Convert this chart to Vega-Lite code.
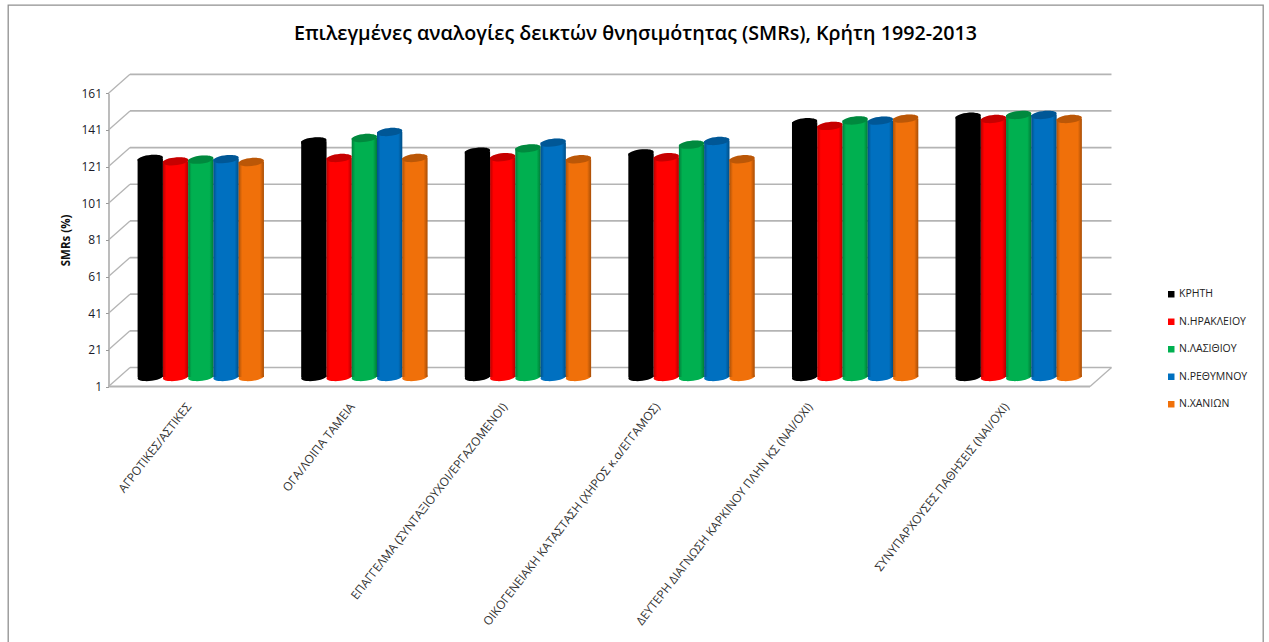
{
  "$schema": "https://vega.github.io/schema/vega-lite/v6.json",
  "width": 1255,
  "height": 640,
  "autosize": {"type": "none"},
  "padding": {"left": 8, "top": 5, "right": 6, "bottom": 0},
  "background": "white",
  "view": {"stroke": "#909090", "strokeWidth": 1.3, "fill": "white"},
  "title": {
    "text": "Επιλεγμένες αναλογίες δεικτών θνησιμότητας (SMRs), Κρήτη 1992-2013",
    "anchor": "middle",
    "frame": "group",
    "baseline": "alphabetic",
    "offset": -55,
    "font": "Open Sans",
    "fontSize": 19.7,
    "fontWeight": 600,
    "color": "#000000"
  },
  "datasets": {
    "ratios": [
      {"category": "ΑΓΡΟΤΙΚΕΣ/ΑΣΤΙΚΕΣ", "region": "ΚΡΗΤΗ", "smr": 120},
      {"category": "ΑΓΡΟΤΙΚΕΣ/ΑΣΤΙΚΕΣ", "region": "Ν.ΗΡΑΚΛΕΙΟΥ", "smr": 118.7},
      {"category": "ΑΓΡΟΤΙΚΕΣ/ΑΣΤΙΚΕΣ", "region": "Ν.ΛΑΣΙΘΙΟΥ", "smr": 119.6},
      {"category": "ΑΓΡΟΤΙΚΕΣ/ΑΣΤΙΚΕΣ", "region": "Ν.ΡΕΘΥΜΝΟΥ", "smr": 119.9},
      {"category": "ΑΓΡΟΤΙΚΕΣ/ΑΣΤΙΚΕΣ", "region": "Ν.ΧΑΝΙΩΝ", "smr": 118.3},
      {"category": "ΟΓΑ/ΛΟΙΠΑ ΤΑΜΕΙΑ", "region": "ΚΡΗΤΗ", "smr": 129.6},
      {"category": "ΟΓΑ/ΛΟΙΠΑ ΤΑΜΕΙΑ", "region": "Ν.ΗΡΑΚΛΕΙΟΥ", "smr": 120.5},
      {"category": "ΟΓΑ/ΛΟΙΠΑ ΤΑΜΕΙΑ", "region": "Ν.ΛΑΣΙΘΙΟΥ", "smr": 131.4},
      {"category": "ΟΓΑ/ΛΟΙΠΑ ΤΑΜΕΙΑ", "region": "Ν.ΡΕΘΥΜΝΟΥ", "smr": 134.7},
      {"category": "ΟΓΑ/ΛΟΙΠΑ ΤΑΜΕΙΑ", "region": "Ν.ΧΑΝΙΩΝ", "smr": 120.5},
      {"category": "ΕΠΑΓΓΕΛΜΑ  (ΣΥΝΤΑΞΙΟΥΧΟΙ/ΕΡΓΑΖΟΜΕΝΟΙ)", "region": "ΚΡΗΤΗ", "smr": 124},
      {"category": "ΕΠΑΓΓΕΛΜΑ  (ΣΥΝΤΑΞΙΟΥΧΟΙ/ΕΡΓΑΖΟΜΕΝΟΙ)", "region": "Ν.ΗΡΑΚΛΕΙΟΥ", "smr": 120.9},
      {"category": "ΕΠΑΓΓΕΛΜΑ  (ΣΥΝΤΑΞΙΟΥΧΟΙ/ΕΡΓΑΖΟΜΕΝΟΙ)", "region": "Ν.ΛΑΣΙΘΙΟΥ", "smr": 125.8},
      {"category": "ΕΠΑΓΓΕΛΜΑ  (ΣΥΝΤΑΞΙΟΥΧΟΙ/ΕΡΓΑΖΟΜΕΝΟΙ)", "region": "Ν.ΡΕΘΥΜΝΟΥ", "smr": 128.9},
      {"category": "ΕΠΑΓΓΕΛΜΑ  (ΣΥΝΤΑΞΙΟΥΧΟΙ/ΕΡΓΑΖΟΜΕΝΟΙ)", "region": "Ν.ΧΑΝΙΩΝ", "smr": 119.8},
      {"category": "ΟΙΚΟΓΕΝΕΙΑΚΗ ΚΑΤΑΣΤΑΣΗ (ΧΗΡΟΣ κ.α/ΕΓΓΑΜΟΣ)", "region": "ΚΡΗΤΗ", "smr": 123},
      {"category": "ΟΙΚΟΓΕΝΕΙΑΚΗ ΚΑΤΑΣΤΑΣΗ (ΧΗΡΟΣ κ.α/ΕΓΓΑΜΟΣ)", "region": "Ν.ΗΡΑΚΛΕΙΟΥ", "smr": 120.9},
      {"category": "ΟΙΚΟΓΕΝΕΙΑΚΗ ΚΑΤΑΣΤΑΣΗ (ΧΗΡΟΣ κ.α/ΕΓΓΑΜΟΣ)", "region": "Ν.ΛΑΣΙΘΙΟΥ", "smr": 127.8},
      {"category": "ΟΙΚΟΓΕΝΕΙΑΚΗ ΚΑΤΑΣΤΑΣΗ (ΧΗΡΟΣ κ.α/ΕΓΓΑΜΟΣ)", "region": "Ν.ΡΕΘΥΜΝΟΥ", "smr": 129.8},
      {"category": "ΟΙΚΟΓΕΝΕΙΑΚΗ ΚΑΤΑΣΤΑΣΗ (ΧΗΡΟΣ κ.α/ΕΓΓΑΜΟΣ)", "region": "Ν.ΧΑΝΙΩΝ", "smr": 119.8},
      {"category": "ΔΕΥΤΕΡΗ  ΔΙΑΓΝΩΣΗ ΚΑΡΚΙΝΟΥ ΠΛΗΝ ΚΣ (ΝΑΙ/ΟΧΙ)", "region": "ΚΡΗΤΗ", "smr": 140},
      {"category": "ΔΕΥΤΕΡΗ  ΔΙΑΓΝΩΣΗ ΚΑΡΚΙΝΟΥ ΠΛΗΝ ΚΣ (ΝΑΙ/ΟΧΙ)", "region": "Ν.ΗΡΑΚΛΕΙΟΥ", "smr": 138},
      {"category": "ΔΕΥΤΕΡΗ  ΔΙΑΓΝΩΣΗ ΚΑΡΚΙΝΟΥ ΠΛΗΝ ΚΣ (ΝΑΙ/ΟΧΙ)", "region": "Ν.ΛΑΣΙΘΙΟΥ", "smr": 141},
      {"category": "ΔΕΥΤΕΡΗ  ΔΙΑΓΝΩΣΗ ΚΑΡΚΙΝΟΥ ΠΛΗΝ ΚΣ (ΝΑΙ/ΟΧΙ)", "region": "Ν.ΡΕΘΥΜΝΟΥ", "smr": 140.9},
      {"category": "ΔΕΥΤΕΡΗ  ΔΙΑΓΝΩΣΗ ΚΑΡΚΙΝΟΥ ΠΛΗΝ ΚΣ (ΝΑΙ/ΟΧΙ)", "region": "Ν.ΧΑΝΙΩΝ", "smr": 142},
      {"category": "ΣΥΝΥΠΑΡΧΟΥΣΕΣ  ΠΑΘΗΣΕΙΣ (ΝΑΙ/ΟΧΙ)", "region": "ΚΡΗΤΗ", "smr": 143},
      {"category": "ΣΥΝΥΠΑΡΧΟΥΣΕΣ  ΠΑΘΗΣΕΙΣ (ΝΑΙ/ΟΧΙ)", "region": "Ν.ΗΡΑΚΛΕΙΟΥ", "smr": 141.8},
      {"category": "ΣΥΝΥΠΑΡΧΟΥΣΕΣ  ΠΑΘΗΣΕΙΣ (ΝΑΙ/ΟΧΙ)", "region": "Ν.ΛΑΣΙΘΙΟΥ", "smr": 144},
      {"category": "ΣΥΝΥΠΑΡΧΟΥΣΕΣ  ΠΑΘΗΣΕΙΣ (ΝΑΙ/ΟΧΙ)", "region": "Ν.ΡΕΘΥΜΝΟΥ", "smr": 144},
      {"category": "ΣΥΝΥΠΑΡΧΟΥΣΕΣ  ΠΑΘΗΣΕΙΣ (ΝΑΙ/ΟΧΙ)", "region": "Ν.ΧΑΝΙΩΝ", "smr": 141.8}
    ],
    "levels": [{"v": 1}, {"v": 21}, {"v": 41}, {"v": 61}, {"v": 81}, {"v": 101}, {"v": 121}, {"v": 141}, {"v": 161}]
  },
  "resolve": {"scale": {"x": "independent"}},
  "layer": [
    {
      "data": {"name": "levels"},
      "layer": [
        {
          "mark": {"type": "rule", "color": "#b4b4b4", "strokeWidth": 1.7, "xOffset": 21.5, "yOffset": -19},
          "encoding": {
            "x": {"datum": 0, "type": "quantitative", "scale": {"domain": [0, 1], "range": [100.5, 1082]}, "axis": null},
            "x2": {"datum": 1.0219},
            "y": {
              "field": "v",
              "type": "quantitative",
              "scale": {"domain": [1, 161], "range": [381.5, 88.3], "zero": false, "nice": false},
              "title": "SMRs  (%)",
              "axis": {
                "orient": "left",
                "offset": -100.5,
                "values": [1, 21, 41, 61, 81, 101, 121, 141, 161],
                "grid": false,
                "domainColor": "#999999",
                "domainWidth": 1.3,
                "tickColor": "#999999",
                "tickSize": 3,
                "labelFont": "Open Sans",
                "labelFontSize": 12,
                "labelColor": "#1a1a2a",
                "labelPadding": 4,
                "titleFont": "Open Sans",
                "titleFontSize": 11.5,
                "titleFontWeight": "bold",
                "titleColor": "#111111",
                "titlePadding": 9
              }
            }
          }
        },
        {
          "transform": [{"filter": "datum.v === 1"}],
          "mark": {"type": "rule", "color": "#b4b4b4", "strokeWidth": 2},
          "encoding": {
            "x": {"datum": 0, "type": "quantitative"},
            "x2": {"datum": 1},
            "y": {"field": "v", "type": "quantitative"}
          }
        },
        {
          "mark": {"type": "point", "shape": "M0,0L21.5,-19", "size": 4, "filled": false, "stroke": "#b4b4b4", "strokeWidth": 1.3, "opacity": 1},
          "encoding": {
            "x": {"datum": 0, "type": "quantitative"},
            "y": {"field": "v", "type": "quantitative"}
          }
        },
        {
          "transform": [{"filter": "datum.v === 1"}],
          "mark": {"type": "point", "shape": "M0,0L21.5,-19", "size": 4, "filled": false, "stroke": "#b4b4b4", "strokeWidth": 1.3, "opacity": 1},
          "encoding": {
            "x": {"datum": 1, "type": "quantitative"},
            "y": {"field": "v", "type": "quantitative"}
          }
        }
      ]
    },
    {
      "data": {"name": "ratios"},
      "encoding": {
        "x": {
          "field": "category",
          "type": "nominal",
          "sort": null,
          "scale": {"range": [111, 1092.5], "paddingInner": 0.228, "paddingOuter": 0.114},
          "title": null,
          "axis": null
        },
        "xOffset": {
          "field": "region",
          "type": "nominal",
          "sort": ["ΚΡΗΤΗ", "Ν.ΗΡΑΚΛΕΙΟΥ", "Ν.ΛΑΣΙΘΙΟΥ", "Ν.ΡΕΘΥΜΝΟΥ", "Ν.ΧΑΝΙΩΝ"],
          "scale": {"paddingInner": 0, "paddingOuter": 0}
        },
        "color": {
          "field": "region",
          "type": "nominal",
          "scale": {
            "domain": ["ΚΡΗΤΗ", "Ν.ΗΡΑΚΛΕΙΟΥ", "Ν.ΛΑΣΙΘΙΟΥ", "Ν.ΡΕΘΥΜΝΟΥ", "Ν.ΧΑΝΙΩΝ"],
            "range": ["#000000", "#ff0000", "#00b050", "#0070c0", "#f0700a"]
          },
          "legend": {
            "orient": "none",
            "legendX": 1158,
            "legendY": 284,
            "title": null,
            "symbolType": "square",
            "symbolSize": 42,
            "symbolStrokeWidth": 0,
            "labelFont": "Open Sans",
            "labelFontSize": 10.5,
            "labelColor": "#222222",
            "labelOffset": 2.5,
            "rowPadding": 16.5,
            "labelLimit": 0
          }
        }
      },
      "layer": [
        {
          "mark": {"type": "point", "shape": "M-12.6,1.3A12.7,3.7,-6,1,1,12.6,-1.3A12.7,3.7,-6,1,1,-12.6,1.3Z", "size": 4, "filled": true, "opacity": 1, "yOffset": -9.5},
          "encoding": {
            "y": {"datum": 1, "type": "quantitative"}
          }
        },
        {
          "mark": {"type": "bar", "yOffset": -9.5},
          "encoding": {
            "y": {"field": "smr", "type": "quantitative"},
            "y2": {"datum": 6.18}
          }
        },
        {
          "mark": {"type": "bar", "yOffset": -9.5},
          "encoding": {
            "y": {"field": "smr", "type": "quantitative"},
            "y2": {"datum": 6.18},
            "color": {
              "value": {
                "gradient": "linear",
                "x1": 0, "y1": 0, "x2": 1, "y2": 0,
                "stops": [
                  {"offset": 0, "color": "rgba(0,0,0,0.28)"},
                  {"offset": 0.14, "color": "rgba(0,0,0,0)"},
                  {"offset": 0.84, "color": "rgba(0,0,0,0)"},
                  {"offset": 1, "color": "rgba(0,0,0,0.3)"}
                ]
              }
            }
          }
        },
        {
          "mark": {"type": "point", "shape": "M-12.6,1.3A12.7,3.7,-6,1,1,12.6,-1.3A12.7,3.7,-6,1,1,-12.6,1.3Z", "size": 4, "filled": true, "opacity": 1, "yOffset": -9.5},
          "encoding": {
            "y": {"field": "smr", "type": "quantitative"}
          }
        },
        {
          "mark": {"type": "point", "shape": "M-12.6,1.3A12.7,3.7,-6,1,1,12.6,-1.3A12.7,3.7,-6,1,1,-12.6,1.3Z", "size": 4, "filled": true, "opacity": 0.22, "yOffset": -9.5},
          "encoding": {
            "y": {"field": "smr", "type": "quantitative"},
            "color": {"value": "#000000"}
          }
        },
        {
          "transform": [{"filter": "datum.region === 'ΚΡΗΤΗ'"}],
          "mark": {
            "type": "text",
            "angle": 308,
            "align": "right",
            "baseline": "middle",
            "font": "Open Sans",
            "fontSize": 11.9,
            "dx": {"expr": "{'ΑΓ': -12, 'ΟΓ': -12, 'ΕΠ': -23, 'ΟΙ': -34, 'ΔΕ': -45, 'ΣΥ': -12}[substring(datum.category, 0, 2)] * 0.616 - 18 * 0.788"},
            "dy": {"expr": "{'ΑΓ': -12, 'ΟΓ': -12, 'ΕΠ': -23, 'ΟΙ': -34, 'ΔΕ': -45, 'ΣΥ': -12}[substring(datum.category, 0, 2)] * 0.788 + 18 * 0.616"}
          },
          "encoding": {
            "xOffset": {"value": 63},
            "y": {"datum": 1, "type": "quantitative"},
            "text": {"field": "category", "type": "nominal"},
            "color": {"value": "#333333"}
          }
        }
      ]
    }
  ]
}
